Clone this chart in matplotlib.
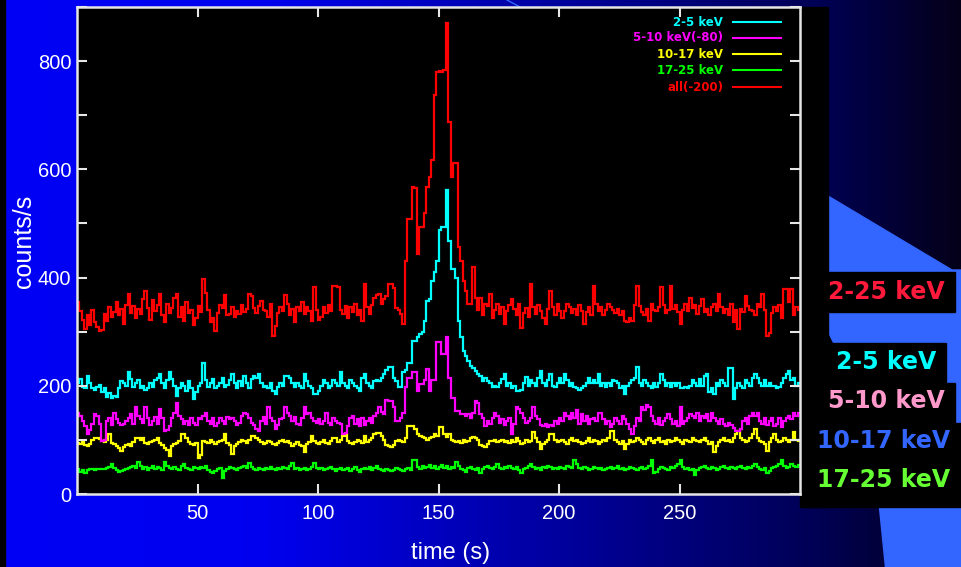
import numpy as np
import matplotlib
matplotlib.use("Agg")
import matplotlib.pyplot as plt
from matplotlib.patches import Polygon, Rectangle
from matplotlib.colors import LinearSegmentedColormap
from matplotlib.ticker import MultipleLocator

# ---------------- data (1 s bins, t = 0..300 s) ----------------
time_edges = np.arange(0, 301)

red_all = [
    355, 338, 322, 305, 330, 312, 340, 318, 309, 302, 304, 333, 320, 345, 328, 336, 355, 330, 342, 315,
    350, 370, 335, 348, 326, 341, 332, 360, 376, 344, 322, 358, 338, 349, 370, 330, 318, 352, 335, 344,
    362, 370, 328, 346, 320, 354, 334, 340, 312, 325, 348, 336, 398, 372, 340, 318, 326, 302, 335, 350,
    344, 368, 330, 333, 345, 328, 338, 333, 350, 336, 341, 370, 366, 344, 335, 348, 356, 340, 338, 327,
    352, 292, 310, 334, 346, 338, 368, 351, 330, 342, 317, 345, 338, 355, 332, 346, 338, 320, 382, 340,
    321, 327, 345, 334, 350, 338, 385, 385, 382, 340, 332, 348, 325, 346, 336, 352, 330, 340, 320, 388,
    345, 332, 350, 362, 368, 370, 352, 360, 365, 389, 389, 380, 344, 340, 333, 315, 431, 509, 509, 567,
    565, 444, 493, 493, 520, 567, 585, 617, 737, 780, 782, 780, 783, 870, 687, 585, 611, 611, 456, 431,
    394, 376, 352, 352, 419, 363, 340, 362, 330, 352, 348, 370, 326, 340, 352, 333, 345, 314, 338, 350,
    361, 342, 330, 352, 306, 335, 344, 328, 388, 346, 332, 350, 338, 326, 314, 342, 376, 345, 330, 352,
    338, 326, 339, 352, 346, 334, 342, 330, 350, 338, 314, 336, 345, 330, 385, 352, 338, 345, 330, 340,
    352, 346, 340, 335, 342, 330, 338, 320, 318, 325, 320, 350, 385, 348, 336, 330, 342, 320, 352, 340,
    338, 346, 382, 350, 334, 340, 385, 342, 350, 336, 314, 340, 352, 338, 362, 344, 350, 332, 348, 360,
    336, 342, 330, 346, 352, 338, 370, 345, 335, 342, 330, 352, 318, 340, 305, 342, 336, 365, 348, 340,
    338, 330, 352, 345, 370, 340, 292, 298, 334, 346, 338, 350, 325, 379, 379, 355, 379, 330, 345, 340,
]

cyan_2_5 = [
    205, 212, 198, 196, 218, 205, 195, 192, 198, 202, 188, 195, 180, 186, 178, 182, 180, 196, 209, 205,
    200, 225, 212, 198, 205, 210, 196, 200, 192, 196, 205, 198, 210, 215, 222, 205, 196, 210, 225, 212,
    200, 182, 196, 205, 200, 190, 208, 195, 176, 188, 200, 206, 243, 210, 198, 205, 212, 196, 200, 205,
    215, 198, 202, 210, 222, 205, 196, 208, 200, 218, 205, 196, 212, 218, 215, 222, 205, 198, 200, 196,
    205, 190, 185, 198, 205, 200, 218, 218, 215, 205, 198, 205, 200, 196, 222, 208, 200, 196, 185, 184,
    190, 200, 210, 205, 196, 200, 210, 205, 200, 225, 205, 200, 196, 210, 205, 200, 196, 190, 215, 222,
    205, 200, 196, 208, 210, 209, 215, 222, 230, 234, 234, 215, 209, 197, 197, 225, 230, 243, 243, 283,
    283, 290, 295, 300, 320, 357, 360, 394, 410, 431, 487, 493, 493, 561, 468, 416, 416, 400, 320, 290,
    265, 255, 246, 237, 232, 228, 222, 218, 209, 215, 209, 205, 197, 200, 197, 205, 212, 222, 200, 205,
    196, 200, 191, 190, 192, 205, 216, 200, 210, 205, 200, 215, 228, 205, 200, 210, 222, 200, 198, 205,
    215, 205, 222, 210, 200, 205, 198, 196, 192, 196, 200, 205, 215, 205, 210, 205, 222, 200, 205, 198,
    205, 200, 210, 208, 205, 196, 200, 184, 200, 205, 210, 215, 235, 205, 200, 210, 205, 200, 196, 205,
    198, 205, 222, 210, 200, 205, 198, 205, 200, 205, 196, 196, 198, 196, 200, 210, 205, 200, 212, 200,
    218, 222, 188, 196, 184, 205, 200, 210, 205, 200, 233, 233, 176, 196, 205, 200, 196, 210, 205, 200,
    215, 222, 215, 205, 200, 210, 200, 205, 200, 200, 196, 198, 205, 215, 222, 228, 210, 215, 200, 205,
]

magenta_5_10 = [
    150, 144, 135, 126, 111, 118, 130, 148, 145, 130, 98, 100, 135, 140, 128, 150, 138, 132, 128, 130,
    135, 140, 148, 130, 160, 145, 138, 132, 160, 140, 128, 135, 142, 130, 158, 140, 117, 118, 125, 140,
    150, 169, 145, 138, 130, 135, 128, 140, 132, 128, 140, 138, 145, 150, 135, 130, 140, 125, 132, 140,
    135, 130, 142, 138, 140, 135, 128, 132, 145, 150, 148, 140, 132, 128, 120, 117, 135, 142, 130, 160,
    140, 135, 120, 128, 138, 140, 160, 150, 145, 135, 142, 130, 128, 140, 160, 148, 150, 140, 135, 132,
    138, 130, 135, 150, 132, 128, 140, 135, 132, 130, 111, 112, 125, 140, 145, 130, 138, 125, 140, 128,
    135, 140, 132, 145, 150, 160, 152, 148, 173, 172, 172, 160, 135, 135, 140, 150, 197, 215, 215, 225,
    225, 191, 204, 204, 210, 231, 191, 210, 210, 280, 280, 259, 259, 290, 215, 178, 178, 154, 154, 148,
    148, 145, 148, 140, 150, 172, 168, 148, 140, 125, 135, 130, 140, 150, 145, 132, 138, 128, 135, 140,
    111, 130, 160, 158, 150, 140, 132, 135, 140, 160, 145, 138, 128, 125, 130, 123, 128, 125, 135, 130,
    140, 135, 150, 145, 138, 150, 140, 155, 130, 148, 135, 145, 130, 138, 140, 135, 150, 150, 138, 130,
    135, 123, 130, 140, 135, 130, 145, 138, 130, 120, 111, 125, 140, 135, 160, 155, 165, 160, 145, 135,
    130, 140, 128, 135, 140, 148, 138, 130, 135, 125, 160, 130, 135, 140, 148, 145, 140, 150, 135, 145,
    140, 148, 135, 150, 140, 135, 130, 138, 130, 125, 132, 128, 122, 117, 117, 120, 135, 140, 130, 145,
    150, 145, 150, 135, 130, 140, 128, 135, 140, 125, 130, 140, 123, 135, 140, 145, 138, 150, 145, 150,
]

yellow_10_17 = [
    95, 92, 96, 90, 88, 92, 100, 103, 104, 102, 98, 96, 100, 111, 95, 92, 88, 85, 80, 86,
    90, 92, 88, 96, 104, 103, 100, 104, 95, 92, 96, 98, 100, 104, 95, 90, 85, 82, 70, 88,
    92, 95, 98, 111, 110, 104, 96, 92, 90, 94, 67, 72, 98, 96, 95, 100, 97, 93, 96, 98,
    100, 111, 95, 90, 74, 88, 92, 96, 100, 98, 95, 100, 108, 108, 104, 100, 96, 92, 95, 98,
    96, 92, 90, 95, 98, 100, 96, 98, 95, 88, 92, 96, 90, 88, 78, 92, 96, 108, 98, 95,
    92, 96, 100, 95, 92, 98, 104, 103, 96, 100, 108, 110, 98, 95, 92, 96, 100, 98, 95, 108,
    96, 100, 104, 110, 113, 112, 108, 100, 90, 88, 86, 90, 98, 100, 98, 96, 104, 126, 126, 126,
    120, 111, 108, 106, 104, 100, 104, 106, 111, 108, 123, 123, 111, 106, 110, 100, 98, 96, 98, 95,
    100, 96, 98, 104, 106, 104, 100, 90, 88, 86, 92, 98, 98, 100, 96, 98, 100, 96, 98, 95,
    100, 96, 104, 98, 92, 95, 100, 96, 98, 115, 104, 96, 84, 92, 96, 100, 110, 110, 100, 96,
    98, 100, 96, 92, 100, 104, 98, 100, 96, 92, 95, 98, 104, 96, 100, 98, 92, 96, 100, 98,
    104, 116, 116, 100, 96, 92, 98, 84, 92, 100, 96, 98, 104, 100, 96, 92, 100, 104, 98, 95,
    100, 104, 96, 98, 92, 100, 96, 98, 104, 100, 96, 92, 100, 98, 96, 104, 100, 98, 96, 100,
    104, 98, 92, 96, 78, 88, 96, 100, 104, 98, 100, 96, 104, 110, 117, 104, 100, 96, 98, 104,
    110, 120, 104, 98, 96, 92, 80, 96, 104, 111, 100, 96, 98, 104, 100, 96, 100, 115, 100, 98,
]

green_17_25 = [
    46, 40, 44, 38, 44, 46, 46, 45, 46, 46, 47, 46, 48, 50, 55, 48, 45, 40, 42, 44,
    46, 48, 50, 52, 48, 60, 52, 46, 50, 44, 48, 52, 46, 50, 48, 45, 60, 52, 48, 46,
    50, 46, 44, 52, 55, 48, 46, 44, 50, 48, 46, 50, 48, 52, 44, 40, 38, 42, 46, 48,
    30, 42, 46, 50, 48, 46, 44, 48, 50, 52, 48, 58, 50, 46, 44, 48, 46, 44, 48, 46,
    50, 46, 44, 48, 46, 50, 48, 46, 52, 58, 46, 48, 44, 46, 48, 44, 46, 50, 58, 48,
    46, 48, 44, 46, 48, 50, 46, 42, 46, 48, 44, 46, 48, 42, 46, 50, 44, 40, 46, 48,
    46, 50, 44, 48, 52, 46, 44, 42, 46, 44, 42, 45, 48, 46, 44, 42, 46, 48, 44, 62,
    62, 50, 46, 52, 48, 50, 54, 48, 52, 46, 50, 54, 48, 52, 46, 50, 48, 60, 52, 46,
    44, 40, 48, 50, 46, 44, 48, 38, 46, 50, 52, 48, 46, 50, 55, 48, 46, 50, 48, 52,
    48, 46, 50, 44, 38, 46, 48, 52, 55, 50, 46, 48, 44, 50, 48, 52, 50, 46, 48, 46,
    50, 48, 46, 52, 50, 48, 62, 55, 48, 46, 50, 48, 44, 46, 50, 48, 46, 48, 44, 46,
    48, 50, 46, 48, 52, 46, 48, 44, 46, 50, 48, 46, 44, 48, 50, 46, 48, 52, 62, 38,
    40, 46, 50, 48, 46, 44, 50, 48, 52, 55, 62, 50, 46, 48, 44, 46, 36, 44, 48, 50,
    52, 48, 46, 50, 48, 44, 46, 50, 52, 48, 46, 50, 48, 46, 50, 52, 48, 46, 50, 48,
    52, 55, 50, 46, 44, 48, 38, 42, 48, 50, 52, 56, 62, 52, 48, 50, 55, 52, 50, 54,
]

legend_labels = ["2-5 keV", "5-10 keV(-80)", "10-17 keV", "17-25 keV", "all(-200)"]
side_labels = ["2-25 keV", "2-5 keV", "5-10 keV", "10-17 keV", "17-25 keV"]
x_ticks = [50, 100, 150, 200, 250]
y_ticks = [0, 200, 400, 600, 800]

# ---------------- figure ----------------
W, H = 961, 567
fig = plt.figure(figsize=(W / 100, H / 100), dpi=100)

# background layer in pixel coordinates
bg = fig.add_axes([0, 0, 1, 1], zorder=-10)
bg.set_xlim(0, W)
bg.set_ylim(H, 0)
bg.axis("off")
cmap = LinearSegmentedColormap.from_list(
    "slide",
    [(0.0, (0.0, 0.0, 0.96)), (0.27, (0.0, 0.0, 0.94)), (0.62, (0.0, 0.0, 0.58)),
     (0.86, (0.0, 0.0, 0.32)), (1.0, (0.02, 0.0, 0.10))])
grad = np.linspace(0, 1, 512).reshape(1, -1)
bg.imshow(grad, cmap=cmap, extent=(0, W, H, 0), aspect="auto", zorder=0)
bg.add_patch(Rectangle((0, 0), 5, H, color="black", zorder=1))

light = "#3366ff"
bg.add_patch(Polygon([(828, 196), (952, 270), (961, 270), (961, 423), (828, 423)],
                     closed=True, color=light, zorder=1))
bg.add_patch(Polygon([(879, 507), (961, 507), (961, H), (885, H)], closed=True, color=light, zorder=1))
bg.plot([507, 520], [0, 7], color=light, lw=1, zorder=1)

# black panel right of the plot and label boxes
bg.add_patch(Rectangle((800, 7), 28, 500, color="black", zorder=2))
bg.add_patch(Rectangle((828, 272), 127, 40, color="black", zorder=2))
bg.add_patch(Polygon([(832, 343), (946, 343), (946, 383), (955, 383), (955, 423),
                      (828, 423), (828, 335)], closed=True, color="black", zorder=2))
bg.add_patch(Rectangle((803, 423), 158, 84, color="black", zorder=2))

side_colors = ["#ff1a3c", "#00ffff", "#ff99cc", "#3366ff", "#66ff33"]
side_y = [292, 362, 401, 441, 480]
side_x = [886, 886, 886, 884, 884]
for lab, c, x, y in zip(side_labels, side_colors, side_x, side_y):
    bg.text(x, y, lab, color=c, fontsize=17, fontweight="bold", family="DejaVu Sans",
            ha="center", va="center", zorder=3)

# ---------------- main plot ----------------
ax = fig.add_axes([77 / W, 1 - 494 / H, 723 / W, 487 / H])
ax.set_facecolor("black")

series = [
    (green_17_25, "#00ff00"),
    (yellow_10_17, "#ffff00"),
    (magenta_5_10, "#ff00ff"),
    (cyan_2_5, "#00ffff"),
    (red_all, "#ff0000"),
]
for vals, col in series:
    ax.stairs(vals, time_edges, color=col, lw=1.6, baseline=None)

ax.set_xlim(0, 300)
ax.set_ylim(0, 900)
ax.set_xticks(x_ticks)
ax.set_yticks(y_ticks)
ax.yaxis.set_minor_locator(MultipleLocator(100))
for s in ax.spines.values():
    s.set_color("#e6e6e6")
    s.set_linewidth(1.8)
ax.tick_params(which="both", direction="in", color="#e6e6e6", top=True, right=True,
               length=7, width=1.5, labelcolor="white", labelsize=14.5)
ax.tick_params(axis="x", pad=7)
ax.tick_params(axis="y", pad=4)
for lab in ax.get_xticklabels() + ax.get_yticklabels():
    lab.set_family("Liberation Sans")

ax.set_xlabel("time (s)", color="white", fontsize=17, family="Liberation Sans")
ax.xaxis.set_label_coords((451 - 77) / 723, (494 - 553) / 487)
ax.xaxis.label.set_va("center")
ax.set_ylabel("counts/s", color="white", fontsize=18, family="Liberation Sans")
ax.yaxis.set_label_coords((24 - 77) / 723, (494 - 241) / 487)
ax.yaxis.label.set_va("center")

# in-plot legend (text right-aligned, line to the right)
leg_colors = ["#00ffff", "#ff00ff", "#ffff00", "#00ff00", "#ff0000"]
leg_y = [22, 38, 54, 70, 87]
for lab, c, py in zip(legend_labels, leg_colors, leg_y):
    yy = 1 - (py - 7) / 487
    ax.text((723 - 77) / 723, yy, lab, transform=ax.transAxes, color=c,
            fontsize=8.5, fontweight="bold", family="DejaVu Sans", ha="right", va="center")
    ax.plot([(733 - 77) / 723, (781 - 77) / 723], [yy, yy], transform=ax.transAxes,
            color=c, lw=1.5)

fig.savefig("out.png", dpi=100, facecolor=fig.get_facecolor())
